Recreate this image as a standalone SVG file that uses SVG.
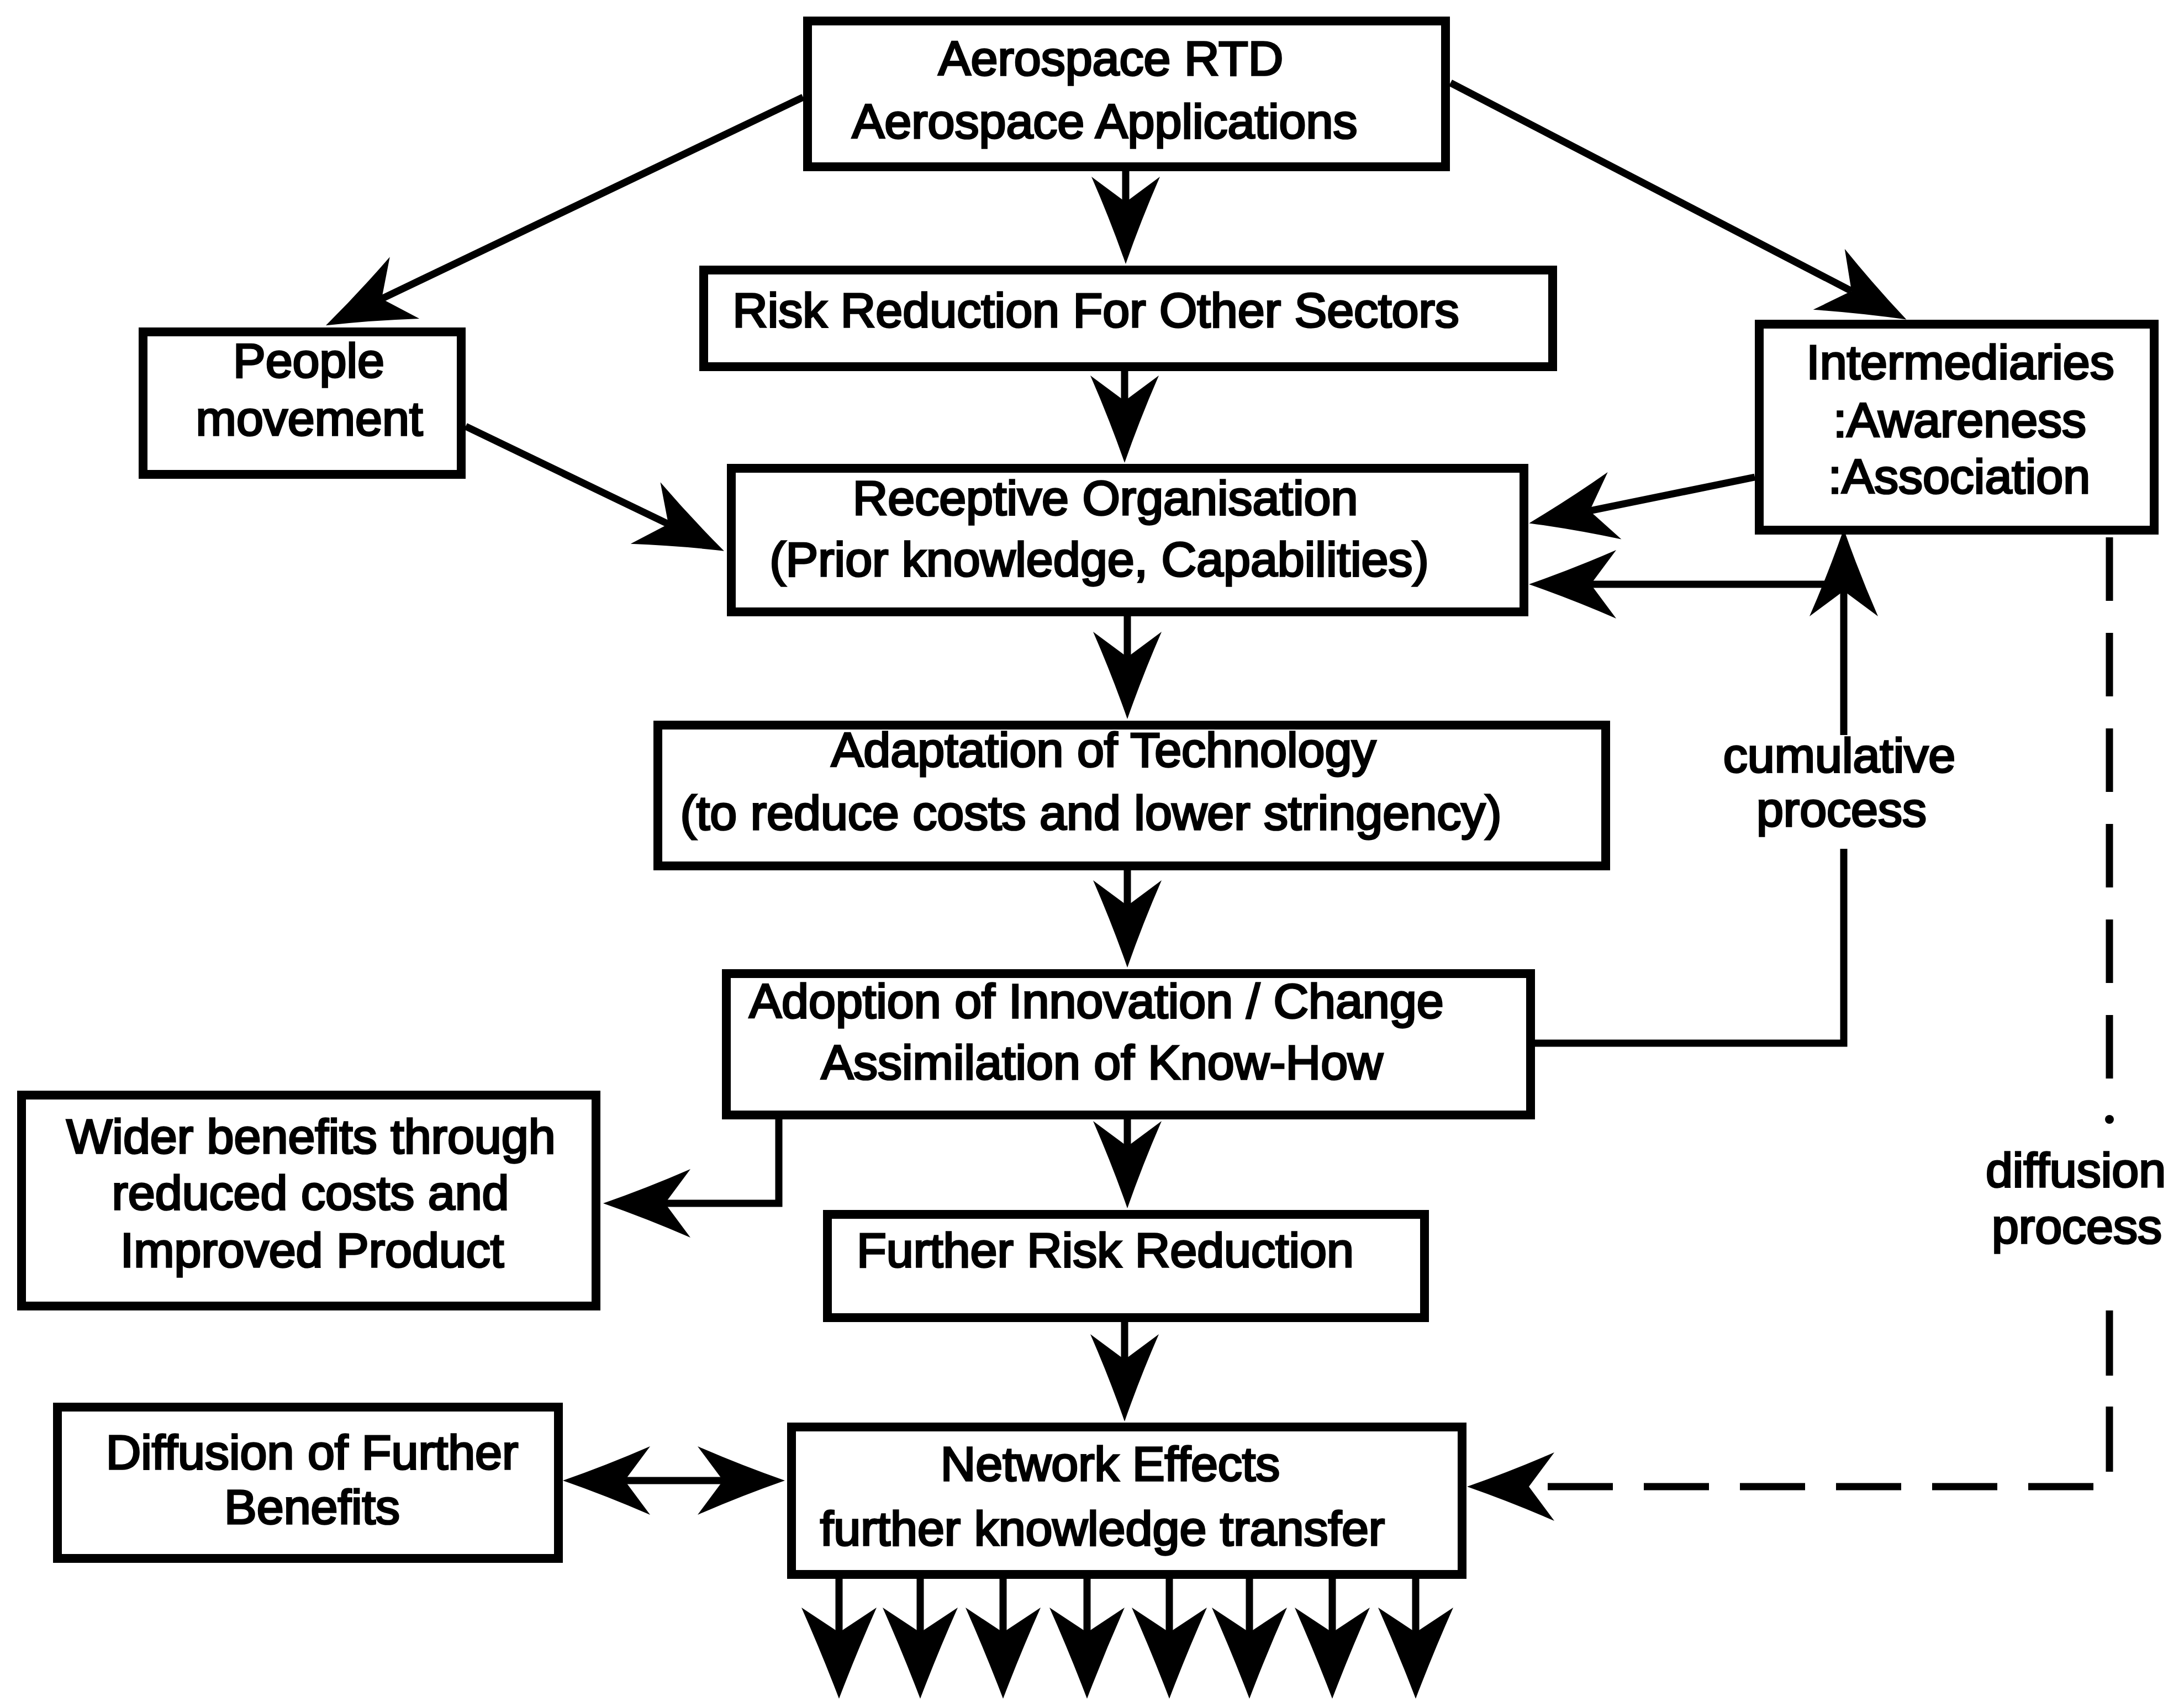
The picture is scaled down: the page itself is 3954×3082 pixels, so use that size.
<svg xmlns="http://www.w3.org/2000/svg" width="3954" height="3082" viewBox="0 0 3954 3082">
  <style>
    .box { fill: #fff; stroke: #000; stroke-width: 16; }
    .t { font-family: "Liberation Sans", Arial, Helvetica, sans-serif; font-size: 88px; fill: #000; stroke: #000; stroke-width: 3.5; text-anchor: middle; }
    .c { fill: none; stroke: #000; stroke-width: 13; stroke-linejoin: miter; }
    .dash { fill: none; stroke: #000; stroke-width: 13; }
  </style>
  <defs>
    <!-- barbed arrowhead; ref point sits on the notch so the line ends inside the head -->
    <marker id="ah" markerUnits="userSpaceOnUse" viewBox="-280 -80 290 160" markerWidth="290" markerHeight="160" refX="-112" refY="0" orient="auto-start-reverse">
      <path d="M0,0 Q-80,-28 -158,-62 L-112,0 L-158,62 Q-80,28 0,0 Z" fill="#000"/>
    </marker>
    <!-- slightly larger head for the fan of outgoing arrows -->
    <marker id="ah-big" markerUnits="userSpaceOnUse" viewBox="-280 -80 290 160" markerWidth="290" markerHeight="160" refX="-120" refY="0" orient="auto">
      <path d="M0,0 Q-84,-32 -165,-68 L-120,0 L-165,68 Q-84,32 0,0 Z" fill="#000"/>
    </marker>
  </defs>

  <g id="connectors">
    <!-- main vertical chain -->
    <path class="c" d="M2038,310 V366" marker-end="url(#ah)"/>
    <path class="c" d="M2036,672 V726" marker-end="url(#ah)"/>
    <path class="c" d="M2041,1116 V1190" marker-end="url(#ah)"/>
    <path class="c" d="M2041,1576 V1640" marker-end="url(#ah)"/>
    <path class="c" d="M2041,2027 V2076" marker-end="url(#ah)"/>
    <path class="c" d="M2036,2394 V2462" marker-end="url(#ah)"/>
    <!-- diagonals from the top node -->
    <path class="c" d="M1454,176 L691,541" marker-end="url(#ah)"/>
    <path class="c" d="M2626,150 L3352,527" marker-end="url(#ah)"/>
    <!-- into the receptive organisation -->
    <path class="c" d="M843,772 L1210,949" marker-end="url(#ah)"/>
    <path class="c" d="M3177,864 L2878,925" marker-end="url(#ah)"/>
    <!-- cumulative process loop -->
    <path class="c" d="M2779,1889 H3338 V1537"/>
    <path class="c" d="M3338,1331 V1070" marker-end="url(#ah)"/>
    <path class="c" d="M3338,1058 H2880" marker-end="url(#ah)"/>
    <!-- wider benefits branch -->
    <path class="c" d="M1410,2027 V2179 H1204" marker-end="url(#ah)"/>
    <!-- two-way link to diffusion of benefits -->
    <path class="c" d="M1131,2681 H1309" marker-start="url(#ah)" marker-end="url(#ah)"/>
    <!-- diffusion process (dashed) -->
    <path class="dash" d="M3819,973 V1955" stroke-dasharray="115 58"/>
    <circle cx="3819" cy="2027" r="8" fill="#000"/>
    <path class="dash" d="M3819,2373 V2692 H2768" stroke-dasharray="118 56" marker-end="url(#ah)"/>
    <!-- outgoing network arrows -->
    <path class="c" d="M1519,2859 V2956" marker-end="url(#ah-big)"/>
    <path class="c" d="M1666,2859 V2956" marker-end="url(#ah-big)"/>
    <path class="c" d="M1816,2859 V2956" marker-end="url(#ah-big)"/>
    <path class="c" d="M1968,2859 V2956" marker-end="url(#ah-big)"/>
    <path class="c" d="M2117,2859 V2956" marker-end="url(#ah-big)"/>
    <path class="c" d="M2262,2859 V2956" marker-end="url(#ah-big)"/>
    <path class="c" d="M2412,2859 V2956" marker-end="url(#ah-big)"/>
    <path class="c" d="M2563,2859 V2956" marker-end="url(#ah-big)"/>
  </g>

  <g id="aerospace">
    <rect class="box" x="1462" y="38" width="1155" height="264"/>
    <text class="t" x="2011" y="136">Aerospace RTD</text>
    <text class="t" x="2000" y="250">Aerospace Applications</text>
  </g>
  <g id="risk-reduction">
    <rect class="box" x="1274" y="489" width="1537" height="175"/>
    <text class="t" x="1984" y="592">Risk Reduction For Other Sectors</text>
  </g>
  <g id="people">
    <rect class="box" x="259" y="601" width="576" height="258"/>
    <text class="t" x="559" y="683">People</text>
    <text class="t" x="560" y="788">movement</text>
  </g>
  <g id="intermediaries">
    <rect class="box" x="3185" y="587" width="715" height="373"/>
    <text class="t" x="3549" y="686">Intermediaries</text>
    <text class="t" x="3548" y="791">:Awareness</text>
    <text class="t" x="3547" y="893">:Association</text>
  </g>
  <g id="receptive">
    <rect class="box" x="1324" y="848" width="1435" height="260"/>
    <text class="t" x="2001" y="932">Receptive Organisation</text>
    <text class="t" x="1990" y="1043">(Prior knowledge, Capabilities)</text>
  </g>
  <g id="adaptation">
    <rect class="box" x="1191" y="1313" width="1716" height="255"/>
    <text class="t" x="1998" y="1388">Adaptation of Technology</text>
    <text class="t" x="1975" y="1502">(to reduce costs and lower stringency)</text>
  </g>
  <g id="adoption">
    <rect class="box" x="1315" y="1763" width="1456" height="256"/>
    <text class="t" x="1985" y="1843">Adoption of Innovation / Change</text>
    <text class="t" x="1995" y="1954">Assimilation of Know-How</text>
  </g>
  <g id="wider-benefits">
    <rect class="box" x="39" y="1983" width="1040" height="382"/>
    <text class="t" x="563" y="2088">Wider benefits through</text>
    <text class="t" x="562" y="2190">reduced costs and</text>
    <text class="t" x="565" y="2294">Improved Product</text>
  </g>
  <g id="further-risk">
    <rect class="box" x="1498" y="2199" width="1081" height="187"/>
    <text class="t" x="2001" y="2294">Further Risk Reduction</text>
  </g>
  <g id="diffusion-benefits">
    <rect class="box" x="104" y="2548" width="907" height="274"/>
    <text class="t" x="565" y="2660">Diffusion of Further</text>
    <text class="t" x="565" y="2759">Benefits</text>
  </g>
  <g id="network">
    <rect class="box" x="1433" y="2584" width="1214" height="267"/>
    <text class="t" x="2010" y="2681">Network Effects</text>
    <text class="t" x="1996" y="2798">further knowledge transfer</text>
  </g>
  <g id="labels">
    <text class="t" x="3330" y="1398">cumulative</text>
    <text class="t" x="3334" y="1496">process</text>
    <text class="t" x="3758" y="2149">diffusion</text>
    <text class="t" x="3760" y="2251">process</text>
  </g>
</svg>
